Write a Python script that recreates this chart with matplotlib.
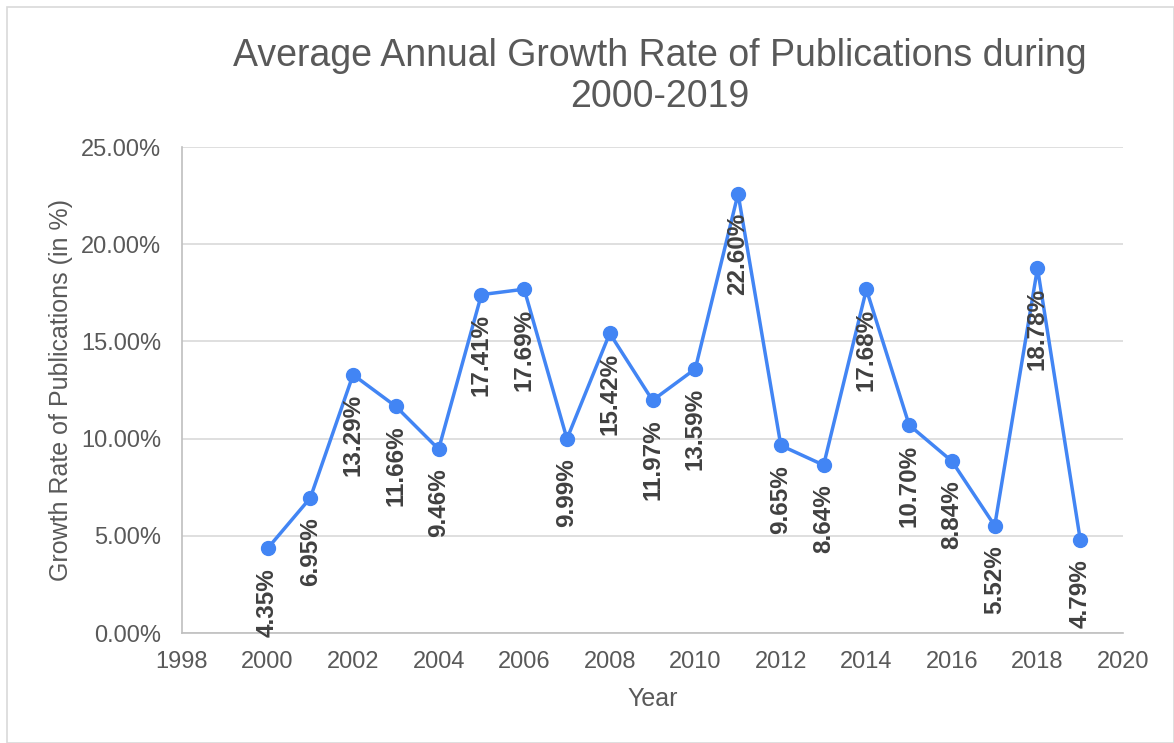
import matplotlib.pyplot as plt
from matplotlib.patches import Rectangle
from matplotlib.ticker import FuncFormatter

plt.rcParams['font.family'] = ['Liberation Sans', 'DejaVu Sans']

years = [2000, 2001, 2002, 2003, 2004, 2005, 2006, 2007, 2008, 2009,
         2010, 2011, 2012, 2013, 2014, 2015, 2016, 2017, 2018, 2019]
growth = [4.35, 6.95, 13.29, 11.66, 9.46, 17.41, 17.69, 9.99, 15.42, 11.97,
          13.59, 22.60, 9.65, 8.64, 17.68, 10.70, 8.84, 5.52, 18.78, 4.79]

blue = '#4285F4'
grey = '#595959'

fig = plt.figure(figsize=(11.74, 7.43), dpi=100)
ax = fig.add_axes([0.155, 0.148, 0.8016, 0.654])

# outer chart border
fig.patches.append(Rectangle((0.006, 0.0), 0.994, 0.99, transform=fig.transFigure,
                             fill=False, edgecolor='#d9d9d9', linewidth=1.2))

ax.plot(years, growth, color=blue, linewidth=2.5, marker='o', markersize=10,
        solid_capstyle='round', zorder=3)

for x, y in zip(years, growth):
    ax.annotate(f'{y:.2f}%', (x, y), xytext=(0, -14), textcoords='offset points',
                rotation=90, ha='center', va='top', fontsize=17.5,
                fontweight='bold', color='#404040', zorder=4)

ax.set_xlim(1998, 2020)
ax.set_ylim(0, 25)
ax.set_xticks(range(1998, 2021, 2))
ax.set_yticks([0, 5, 10, 15, 20, 25])
ax.yaxis.set_major_formatter(FuncFormatter(lambda v, p: f'{v:.2f}%'))
ax.tick_params(length=0, labelsize=17, labelcolor=grey)
ax.tick_params(axis='y', pad=15)
ax.tick_params(axis='x', pad=13)

ax.grid(axis='y', color='#d9d9d9', linewidth=1.2)
ax.set_axisbelow(True)
for s in ['top', 'right']:
    ax.spines[s].set_visible(False)
for s in ['left', 'bottom']:
    ax.spines[s].set_color('#bfbfbf')
    ax.spines[s].set_linewidth(1.2)

ax.set_xlabel('Year', fontsize=18, color=grey, labelpad=10)
ax.set_ylabel('Growth Rate of Publications (in %)', fontsize=18, color=grey, labelpad=6)
fig.text(0.562, 0.897, 'Average Annual Growth Rate of Publications during\n2000-2019',
         ha='center', va='center', fontsize=27, color=grey, linespacing=1.2)

fig.savefig('out.png', dpi=100)
